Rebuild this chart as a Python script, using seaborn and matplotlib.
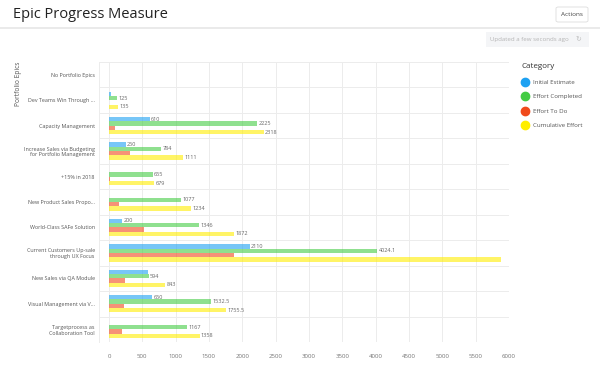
import matplotlib
matplotlib.use("Agg")
import matplotlib.pyplot as plt
from matplotlib.lines import Line2D
from matplotlib.patches import FancyBboxPatch, Rectangle
import seaborn as sns
import pandas as pd
import numpy as np

epics = [
    "No Portfolio Epics",
    "Dev Teams Win Through ...",
    "Capacity Management",
    "Increase Sales via Budgeting\nfor Portfolio Management",
    "+15% in 2018",
    "New Product Sales Propo...",
    "World-Class SAFe Solution",
    "Current Customers Up-sale\nthrough UX Focus",
    "New Sales via QA Module",
    "Visual Management via V...",
    "Targetprocess as\nCollaboration Tool",
]
categories = ["Initial Estimate", "Effort Completed", "Effort To Do", "Cumulative Effort"]

initial_estimate = [0, 25, 610, 250, 0, 0, 200, 2110, 580, 650, 0]
effort_completed = [0, 125, 2225, 784, 655, 1077, 1346, 4024.1, 594, 1532.5, 1167]
effort_to_do = [0, 0, 90, 315, 10, 150, 525, 1870, 245, 220, 190]
cumulative_effort = [0, 135, 2318, 1111, 679, 1234, 1872, 5880, 843, 1755.5, 1358]

show_initial = [False, False, True, True, False, False, True, True, False, True, False]
show_completed = [False, True, True, True, True, True, True, True, True, True, True]
show_todo = [False] * 11
show_cumulative = [False, True, True, True, True, True, True, False, True, True, True]

x_ticks = [0, 500, 1000, 1500, 2000, 2500, 3000, 3500, 4000, 4500, 5000, 5500, 6000]

colors = ["#1da1f2", "#44cc44", "#f04a1c", "#ffee00"]

series = [initial_estimate, effort_completed, effort_to_do, cumulative_effort]
shows = [show_initial, show_completed, show_todo, show_cumulative]

rows = []
for cat, vals in zip(categories, series):
    for e, v in zip(epics, vals):
        rows.append({"Epic": e, "Category": cat, "Value": v})
df = pd.DataFrame(rows)

plt.rcParams["font.family"] = ["Open Sans", "DejaVu Sans"]
fig = plt.figure(figsize=(6, 3.69), dpi=100)
W, H = 600, 369

ax = fig.add_axes([99 / W, 1 - 342 / H, 410 / W, 280 / H])
sns.barplot(data=df, y="Epic", x="Value", hue="Category", order=epics,
            hue_order=categories, palette=colors, orient="h", ax=ax,
            legend=False, alpha=0.6, width=0.68, errorbar=None, saturation=1)

for cont, vals, sh in zip(ax.containers, series, shows):
    labels = [f"{v:g}" if s else "" for v, s in zip(vals, sh)]
    ax.bar_label(cont, labels=labels, fontsize=4.0, color="#666666", padding=1)

ax.set_xlim(-150, 6000)
ax.set_ylim(len(epics) - 0.5, -0.5)
ax.set_xticks(x_ticks)
ax.set_xticklabels([str(t) for t in x_ticks])
ax.tick_params(axis="x", labelsize=4.4, colors="#777777", length=0, pad=9)
ax.tick_params(axis="y", labelsize=3.9, colors="#555555", length=0, pad=3)
for lbl in ax.get_yticklabels():
    lbl.set_multialignment("right")

ax.set_yticks(np.arange(len(epics)) + 0.5, minor=True)
ax.grid(False)
ax.xaxis.grid(True, color="#ececec", linewidth=0.7)
ax.yaxis.grid(True, which="minor", color="#ececec", linewidth=0.7)
ax.tick_params(axis="y", which="minor", length=0)
ax.set_axisbelow(True)
ax.set_xlabel("")
ax.set_ylabel("")
for s in ["top", "right", "bottom"]:
    ax.spines[s].set_visible(False)
ax.spines["left"].set_color("#ececec")
ax.spines["left"].set_linewidth(0.7)
ax.axhline(-0.5, color="#ececec", linewidth=0.7)

fig.text(18 / W, 1 - 84 / H, "Portfolio Epics", rotation=90, ha="center", va="center",
         fontsize=4.8, color="#555555")

# Header
fig.text(13 / W, 1 - 15 / H, "Epic Progress Measure", fontsize=10.5, color="#222222",
         ha="left", va="center")
fig.add_artist(Line2D([0, 1], [1 - 28 / H, 1 - 28 / H], color="#e6e6e6", linewidth=1.2,
                      transform=fig.transFigure))
fig.add_artist(FancyBboxPatch((556 / W, 1 - 22 / H), 32 / W, 15 / H,
                              boxstyle="round,pad=0,rounding_size=0.004",
                              facecolor="white", edgecolor="#dddddd", linewidth=0.6,
                              transform=fig.transFigure))
fig.text(572 / W, 1 - 14.5 / H, "Actions", fontsize=4.6, color="#444444",
         ha="center", va="center")
fig.add_artist(Rectangle((486 / W, 1 - 47 / H), 103 / W, 15 / H, facecolor="#f4f5f7",
                         edgecolor="none", transform=fig.transFigure))
fig.text(529 / W, 1 - 39.5 / H, "Updated a few seconds ago", fontsize=4.4, color="#b5b5b5",
         ha="center", va="center")
fig.text(578 / W, 1 - 39.5 / H, "\u21bb", fontsize=5, color="#c0c0c0",
         ha="center", va="center", family=["DejaVu Sans"])

# Legend
handles = [Line2D([0], [0], marker="o", linestyle="none", markersize=6,
                  markerfacecolor=c, markeredgecolor=c) for c in colors]
leg = fig.legend(handles, categories, title="Category", loc="upper left",
                 bbox_to_anchor=(519 / W, 1 - 61 / H), frameon=False, fontsize=4.4,
                 title_fontsize=5.8, labelspacing=1.5, handletextpad=0.9,
                 handlelength=1.0, borderaxespad=0)
leg._legend_box.align = "left"
for t in leg.get_texts():
    t.set_color("#555555")
leg.get_title().set_color("#333333")

fig.savefig("out.png", dpi=100)
